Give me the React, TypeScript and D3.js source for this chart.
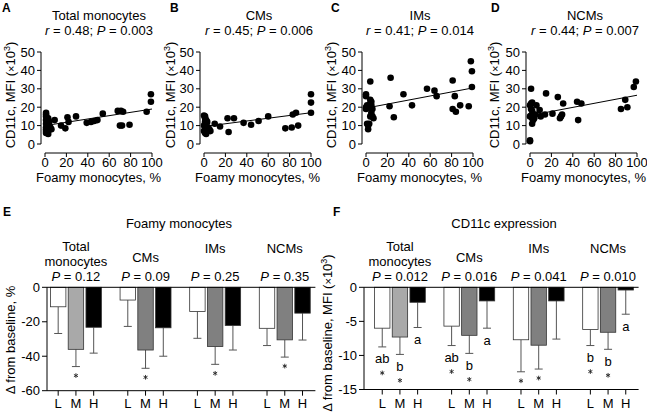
import React from "react";
import * as d3 from "d3";

const FONT = "'Liberation Sans', Arial, Helvetica, sans-serif";

// ---------- Scatter panels A–D ----------
const scatterLetters = ["A", "B", "C", "D"];
const scatterTitles = ["Total monocytes", "CMs", "IMs", "NCMs"];
const scatterR = ["0.48", "0.45", "0.41", "0.44"];
const scatterP = ["0.003", "0.006", "0.014", "0.007"];
const scatterXTicks = [0, 20, 40, 60, 80, 100];
const scatterYTicks = [0, 10, 20, 30, 40, 50];

const totalX = [1, 1, 1, 2, 3, 1, 2, 4, 1, 2, 3, 1, 5, 1, 2, 4, 1, 3, 1, 2, 3, 5, 6, 9, 15, 19, 21, 22, 29, 39, 43, 46, 49, 54, 68, 70, 71, 72, 73, 79, 95, 99, 99];
const totalY = [17, 16, 15, 14, 14, 13, 12, 12, 11, 10, 10, 9, 9, 8, 8, 8, 7, 7, 6, 6, 5.5, 8.5, 8, 13, 10, 8.5, 14.5, 12, 15, 11.5, 12, 12.5, 13, 16.5, 18, 10, 18, 10, 17.5, 10.5, 17.5, 23, 27];
const cmX = [0, 1, 1, 2, 1, 3, 1, 0, 2, 4, 1, 3, 5, 0, 2, 4, 1, 2, 6, 10, 15, 22, 23, 28, 37, 44, 51, 60, 76, 82, 83, 86, 88, 100, 100, 100];
const cmY = [15.5, 15, 14, 13, 12, 12, 11, 10, 10, 9, 8, 8, 8, 7, 7, 7, 6, 5.5, 7, 11, 9.5, 14, 6.5, 14, 11.5, 10.5, 12.5, 15, 8.5, 9, 16, 17, 10, 27, 22.5, 17];
const imX = [0, 0, 1, 0, 0, 1, 2, 2, 3, 4, 4, 5, 4, 3, 5, 6, 5, 4, 6, 7, 22, 23, 26, 35, 43, 57, 64, 66, 81, 81, 83, 84, 88, 96, 98, 99, 99];
const imY = [27, 26, 21, 20, 19, 11, 10, 8, 11, 34, 24, 23, 22, 20, 21, 19, 17, 15, 15, 14, 20.5, 36, 14.5, 27, 21, 30, 29, 26, 19, 34.5, 26, 17.5, 21, 20.5, 45, 39.5, 31];
const ncmX = [0, 0, 1, 1, 2, 0, 1, 2, 3, 1, 0, 2, 4, 3, 2, 5, 6, 9, 10, 14, 15, 21, 26, 28, 29, 31, 30, 44, 45, 48, 85, 89, 91, 97, 99];
const ncmY = [2, 1.5, 30, 22, 22.5, 21, 19, 18, 16, 15.5, 15, 14, 14, 13, 11, 16, 21, 18.5, 15, 16, 27.5, 16.5, 25.5, 14, 15, 22, 16, 23, 13, 22, 19, 24, 20, 31, 34];
const scatterXs = [totalX, cmX, imX, ncmX];
const scatterYs = [totalY, cmY, imY, ncmY];
const fitAt0 = [10, 9.5, 19.5, 15.5];
const fitAt100 = [19, 17, 30.5, 26.5];

// ---------- Bar panels E–F ----------
const barGroups = [["Total", "monocytes"], ["CMs"], ["IMs"], ["NCMs"]];
const levels = ["L", "M", "H"];

const foamyP = ["0.12", "0.09", "0.25", "0.35"];
const foamyTicks = [0, -20, -40, -60];
const foamyMeanL = [-11.3, -7.4, -14.0, -23.8];
const foamyMeanM = [-36.0, -36.4, -34.4, -30.5];
const foamyMeanH = [-23.2, -23.5, -22.2, -15.0];
const foamyErrL = [15.5, 15.3, 15.6, 10.0];
const foamyErrM = [10.0, 10.6, 10.3, 10.0];
const foamyErrH = [15.0, 16.5, 14.2, 15.6];
const foamyStarL = [false, false, false, false];
const foamyStarM = [true, true, true, true];
const foamyStarH = [false, false, false, false];

const cd11cP = ["0.012", "0.016", "0.041", "0.010"];
const cd11cTicks = [0, -5, -10, -15];
const cd11cMeanL = [-6.0, -5.7, -7.7, -6.2];
const cd11cMeanM = [-7.3, -7.05, -8.5, -6.6];
const cd11cMeanH = [-2.2, -2.0, -2.0, -0.4];
const cd11cErrL = [2.75, 2.85, 4.7, 2.35];
const cd11cErrM = [2.55, 2.65, 3.5, 2.5];
const cd11cErrH = [3.7, 4.0, 5.6, 3.55];
const cd11cLetterL = ["ab", "ab", "", "b"];
const cd11cLetterM = ["b", "b", "", "b"];
const cd11cLetterH = ["a", "a", "", "a"];
const cd11cStarL = [true, true, true, true];
const cd11cStarM = [true, true, true, true];
const cd11cStarH = [false, false, false, false];

const fillL = "#ffffff";
const fillMFirst = "#a9a9a9";
const fillM = "#808080";
const fillH = "#000000";

const starPath = d3.symbol().type(d3.symbolAsterisk).size(15)() || "";

type ScatterProps = { i: number; axisX: number; titleX: number; labelX: number; letterX: number };

function Scatter({ i, axisX, titleX, labelX, letterX }: ScatterProps) {
  const x0 = axisX + 4;
  const x = d3.scaleLinear().domain([0, 100]).range([x0, x0 + 107]);
  const y = d3.scaleLinear().domain([0, 50]).range([144, 52]);
  const xAxisY = 153;
  const xs = scatterXs[i];
  const ys = scatterYs[i];
  const line = d3.line<[number, number]>().x((d) => x(d[0])).y((d) => y(d[1]));
  return (
    <g>
      <text x={letterX} y={12} fontWeight="bold" fontSize={12}>{scatterLetters[i]}</text>
      <text x={titleX} y={20} textAnchor="middle" fontSize={13}>{scatterTitles[i]}</text>
      <text x={titleX} y={35} textAnchor="middle" fontSize={13}>
        <tspan fontStyle="italic">r</tspan> = {scatterR[i]}; <tspan fontStyle="italic">P</tspan> = {scatterP[i]}
      </text>
      <line x1={axisX} x2={axisX} y1={y(0)} y2={y(50)} stroke="#000" strokeWidth={1} />
      {scatterYTicks.map((t) => (
        <g key={t}>
          <line x1={axisX - 4} x2={axisX} y1={y(t)} y2={y(t)} stroke="#000" />
          <text x={axisX - 6} y={y(t) + 4.5} textAnchor="end" fontSize={13}>{t}</text>
        </g>
      ))}
      <line x1={x(0)} x2={x(100)} y1={xAxisY} y2={xAxisY} stroke="#000" />
      {scatterXTicks.map((t) => (
        <g key={t}>
          <line x1={x(t)} x2={x(t)} y1={xAxisY} y2={xAxisY + 4} stroke="#000" />
          <text x={x(t)} y={167} textAnchor="middle" fontSize={13}>{t}</text>
        </g>
      ))}
      <text x={x(50)} y={182} textAnchor="middle" fontSize={13}>Foamy monocytes, %</text>
      <text transform={`translate(${labelX},95) rotate(-90)`} textAnchor="middle" fontSize={13} dy="0.35em">
        CD11c, MFI (<tspan fontSize={11}>×</tspan>10<tspan fontSize={9} dy={-5}>3</tspan><tspan dy={5}>)</tspan>
      </text>
      <path d={line([[0, fitAt0[i]], [100, fitAt100[i]]]) || ""} stroke="#000" strokeWidth={1} fill="none" />
      {xs.map((v, k) => (
        <circle key={k} cx={x(v)} cy={y(ys[k])} r={3.3} fill="#000" />
      ))}
    </g>
  );
}

type BarProps = {
  letter: string;
  letterX: number;
  title: string;
  titleX: number;
  axisX: number;
  rangeStart: number;
  rangeEnd: number;
  yMin: number;
  yBottom: number;
  ticks: number[];
  means: number[][];
  errs: number[][];
  stars: boolean[][];
  letters?: string[][];
  pvals: string[];
  yLabel: React.ReactNode;
  yLabelX: number;
  yLabelY: number;
};

function BarPanel(p: BarProps) {
  const y = d3.scaleLinear().domain([p.yMin, 0]).range([p.yBottom, 287.3]);
  const gx = d3.scaleBand<number>().domain([0, 1, 2, 3]).range([p.rangeStart, p.rangeEnd]).paddingInner(0.235).paddingOuter(0);
  const bx = d3.scaleBand<string>().domain(levels).range([0, gx.bandwidth()]).paddingInner(0.13).paddingOuter(0.065);
  const bw = bx.bandwidth();
  const lineEnd = p.rangeEnd + 4;
  const fills = (g: number) => [fillL, g === 0 ? fillMFirst : fillM, fillH];
  return (
    <g>
      <text x={p.letterX} y={216} fontWeight="bold" fontSize={12}>{p.letter}</text>
      <text x={p.titleX} y={227.5} textAnchor="middle" fontSize={13}>{p.title}</text>
      {barGroups.map((lines, g) => {
        const cx = (gx(g) as number) + gx.bandwidth() / 2;
        return (
          <g key={g}>
            {lines.length === 2 ? (
              <>
                <text x={cx} y={251} textAnchor="middle" fontSize={13}>{lines[0]}</text>
                <text x={cx} y={266} textAnchor="middle" fontSize={13}>{lines[1]}</text>
              </>
            ) : (
              <text x={cx} y={g === 1 ? 261.5 : 253} textAnchor="middle" fontSize={13}>{lines[0]}</text>
            )}
            <text x={cx} y={280.5} textAnchor="middle" fontSize={13}>
              <tspan fontStyle="italic">P</tspan> = {p.pvals[g]}
            </text>
          </g>
        );
      })}
      <line x1={p.axisX} x2={p.axisX} y1={y(0)} y2={y(p.yMin)} stroke="#000" />
      {p.ticks.map((t) => (
        <g key={t}>
          <line x1={p.axisX - 5} x2={p.axisX} y1={y(t)} y2={y(t)} stroke="#000" />
          <text x={p.axisX - 7} y={y(t) + 4.5} textAnchor="end" fontSize={13}>{t}</text>
        </g>
      ))}
      <text transform={`translate(${p.yLabelX},${p.yLabelY}) rotate(-90)`} textAnchor="middle" fontSize={13} dy="0.35em">
        {p.yLabel}
      </text>
      <line x1={p.axisX} x2={lineEnd} y1={y(p.yMin)} y2={y(p.yMin)} stroke="#000" />
      {barGroups.map((_, g) =>
        levels.map((lv, li) => {
          const left = (gx(g) as number) + (bx(lv) as number);
          const cx = left + bw / 2;
          const m = p.means[li][g];
          const e = p.errs[li][g];
          const wEnd = y(m - e);
          const letter = p.letters ? p.letters[li][g] : "";
          const starY = letter ? wEnd + 12 + 14 : wEnd + 9;
          return (
            <g key={`${g}-${lv}`}>
              <line x1={cx} x2={cx} y1={y(m)} y2={wEnd} stroke="#555" strokeWidth={1} />
              <line x1={cx - 4} x2={cx + 4} y1={wEnd} y2={wEnd} stroke="#555" strokeWidth={1} />
              <rect x={left} y={y(0)} width={bw} height={y(m) - y(0)} fill={fills(g)[li]} stroke="#333" strokeWidth={0.8} />
              {letter && (
                <text x={cx} y={wEnd + 12 + 4.5} textAnchor="middle" fontSize={13}>{letter}</text>
              )}
              {p.stars[li][g] && (
                <path d={starPath} transform={`translate(${cx},${starY})`} stroke="#222" strokeWidth={0.9} fill="none" />
              )}
              <line x1={cx} x2={cx} y1={y(p.yMin)} y2={y(p.yMin) + 5} stroke="#000" />
              <text x={cx} y={407.5} textAnchor="middle" fontSize={13}>{lv}</text>
            </g>
          );
        })
      )}
      <line x1={p.axisX} x2={lineEnd} y1={y(0)} y2={y(0)} stroke="#000" />
    </g>
  );
}

export default function App() {
  return (
    <svg
      width={647}
      height={416}
      style={{ position: "absolute", left: 0, top: 0, background: "#fff" }}
      fontFamily={FONT}
      fill="#000"
    >
      <rect x={0} y={0} width={647} height={416} fill="#fff" />
      <Scatter i={0} axisX={41} titleX={99} labelX={10} letterX={2} />
      <Scatter i={1} axisX={200} titleX={259} labelX={170} letterX={170} />
      <Scatter i={2} axisX={362} titleX={420} labelX={331} letterX={331} />
      <Scatter i={3} axisX={526} titleX={585} labelX={494} letterX={491} />
      <BarPanel
        letter="E"
        letterX={3}
        title="Foamy monocytes"
        titleX={179}
        axisX={47}
        rangeStart={49.3}
        rangeEnd={311.4}
        yMin={-60}
        yBottom={390.7}
        ticks={foamyTicks}
        means={[foamyMeanL, foamyMeanM, foamyMeanH]}
        errs={[foamyErrL, foamyErrM, foamyErrH]}
        stars={[foamyStarL, foamyStarM, foamyStarH]}
        pvals={foamyP}
        yLabel={<>Δ from baseline, %</>}
        yLabelX={10}
        yLabelY={340}
      />
      <BarPanel
        letter="F"
        letterX={333}
        title="CD11c expression"
        titleX={504}
        axisX={364}
        rangeStart={373.4}
        rangeEnd={634.6}
        yMin={-15}
        yBottom={389.5}
        ticks={cd11cTicks}
        means={[cd11cMeanL, cd11cMeanM, cd11cMeanH]}
        errs={[cd11cErrL, cd11cErrM, cd11cErrH]}
        stars={[cd11cStarL, cd11cStarM, cd11cStarH]}
        letters={[cd11cLetterL, cd11cLetterM, cd11cLetterH]}
        pvals={cd11cP}
        yLabel={
          <>
            Δ from baseline, MFI (<tspan fontSize={11}>×</tspan>10<tspan fontSize={9} dy={-5}>3</tspan>
            <tspan dy={5}>)</tspan>
          </>
        }
        yLabelX={327}
        yLabelY={333}
      />
    </svg>
  );
}
